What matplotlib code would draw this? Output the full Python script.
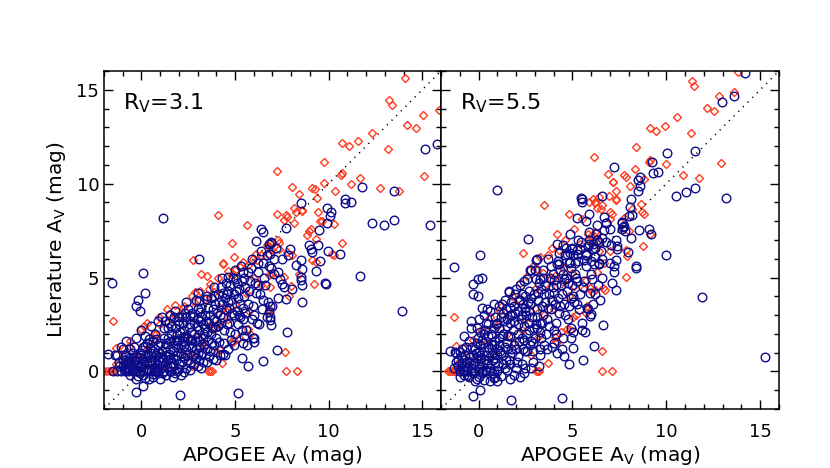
import numpy as np
import matplotlib
matplotlib.use('Agg')
import matplotlib.pyplot as plt
from matplotlib.ticker import MultipleLocator

# (APOGEE A_V, literature A_V), R_V = 3.1 panel
left_red = [
    (-2.0, 0), (-1.85, 0), (-1.7, 0), (-1.55, 0), (-1.45, 0), (3.55, 0), (3.65, 0), (3.75, 0),
    (7.71, 0), (8.30, 0),
    (-1.38, 0.39), (-1.37, 1.25), (-1.51, 2.71), (-0.32, 0.83), (2.69, 0.3), (4.29, 0.43),
    (7.68, 1.05), (4.79, 1.55), (4.16, 1.19), (4.02, 1.02), (3.81, 2.26), (5.67, 2.26),
    (5.76, 3.24), (6.79, 3.24), (5.80, 1.99), (4.82, 1.51), (3.31, 1.55), (2.43, 1.90),
    (2.61, 1.73), (0.65, 1.99), (0.62, 1.73), (-0.94, 1.19), (-0.68, 1.37), (-0.59, 1.64),
    (-0.05, 2.26), (0.12, 2.44), (0.3, 2.6), (0.92, 2.89), (1.36, 3.33), (1.45, 3.06),
    (1.81, 3.55), (2.2, 3.4), (2.69, 4.04), (2.87, 4.22), (3.14, 4.31), (3.49, 5.08),
    (3.67, 4.67), (4.11, 4.97), (3.85, 4.22), (3.40, 3.87), (4.64, 5.33), (4.82, 5.11),
    (5.27, 5.56), (5.71, 5.65), (6.15, 5.91), (6.86, 4.49), (4.64, 3.33), (4.55, 3.16),
    (4.11, 2.58), (3.85, 2.35), (3.63, 4.40), (4.34, 5.74), (4.9, 5.2), (5.0, 5.4),
    (5.4, 5.83), (5.94, 6.0), (6.12, 6.27), (6.82, 6.27), (6.91, 6.45), (7.36, 6.54),
    (7.8, 6.36), (8.06, 6.18), (7.62, 5.03), (7.98, 4.56), (6.82, 5.11), (8.42, 5.2),
    (9.31, 5.83), (10.19, 6.27), (3.2, 5.2), (2.74, 5.91), (4.38, 5.79), (4.95, 6.10),
    (4.84, 6.86), (4.07, 8.32), (5.62, 7.79),
    (0.3, 1.2), (0.8, 2.0), (1.0, 2.5), (1.6, 2.8), (2.0, 3.0), (2.3, 3.5), (2.8, 3.7),
    (2.2, 1.2), (3.0, 2.0), (3.6, 2.4), (4.2, 3.4), (5.0, 3.6), (5.6, 4.2), (6.0, 5.0),
    (1.2, 0.4), (0.5, 0.2), (-0.5, 0.4), (-1.0, 0.8), (2.6, 0.8), (3.3, 1.2), (4.6, 2.8),
    (5.2, 1.8),
    (7.23, 8.41), (7.71, 8.32), (7.80, 8.24), (7.62, 8.05), (8.15, 8.72), (8.24, 8.47),
    (8.6, 8.54), (8.15, 7.93), (9.45, 8.47), (9.54, 8.0), (9.66, 8.02), (10.28, 7.84),
    (8.95, 7.47), (9.04, 7.61), (8.86, 7.25), (9.31, 7.07), (10.69, 6.86), (7.27, 6.98),
    (7.36, 6.84), (6.82, 6.68), (10.28, 6.22), (6.73, 6.75), (6.91, 6.90), (7.0, 5.2),
    (7.89, 4.04), (6.38, 4.58), (6.83, 3.33), (9.22, 4.67), (9.13, 5.91), (6.38, 6.18),
    (14.06, 15.63), (13.24, 14.47), (13.38, 14.20), (15.87, 13.94), (15.02, 13.67),
    (14.20, 13.10), (14.66, 12.96), (12.32, 12.69), (10.72, 12.15), (11.08, 11.98),
    (11.57, 12.25), (13.17, 11.85), (9.75, 11.18), (7.23, 10.70), (10.64, 10.46),
    (10.72, 10.59), (15.07, 10.39), (11.65, 10.32), (8.06, 9.84), (9.13, 9.75),
    (9.26, 9.70), (9.75, 10.05), (11.17, 9.98), (12.73, 9.75), (13.76, 9.63), (8.42, 9.43),
    (10.32, 9.61), (9.39, 9.25), (8.60, 8.59),
]

left_blue = [
    (-1.5, 0), (-1.3, 0), (-1.1, 0), (-0.9, 0), (-0.7, 0), (-0.5, 0), (-0.3, 0), (-0.1, 0),
    (0.1, 0), (0.3, 0), (0.5, 0), (0.7, 0), (0.9, 0), (1.2, 0), (1.5, 0), (1.9, 0),
    (-1.78, 0.93), (-1.4, 0.9), (-1.2, 0.5), (-1.0, 1.2), (-0.9, 0.6),
    (-1.56, 4.72), (0.09, 5.26), (0.18, 4.19), (-0.27, 3.51), (-0.18, 3.78), (-0.09, 3.24),
    (-0.27, -1.09), (0.09, -0.80), (2.04, -1.27), (3.06, 6.0), (1.15, 8.18), (5.18, -1.16),
    (5.37, 0.71), (5.67, 0.3), (6.47, 0.57), (7.23, 1.16), (7.75, 2.12), (13.92, 3.24),
    (11.66, 5.06), (9.80, 4.70), (8.6, 3.69), (8.51, 4.85), (6.88, 2.74), (6.91, 2.48),
    (5.94, 1.76), (6.0, 1.55), (4.34, 0.93), (3.81, 0.66), (3.5, 0.5), (6.86, 3.5),
    (6.86, 2.9),
    (6.36, 7.57), (6.47, 7.43), (6.12, 6.93), (6.82, 6.81), (6.86, 6.27), (6.91, 6.86),
    (7.71, 7.66), (7.94, 6.50), (7.85, 6.18), (8.24, 5.68), (8.51, 5.91), (8.60, 5.47),
    (8.51, 5.03), (8.56, 4.61), (8.06, 4.40), (7.71, 3.87), (7.53, 4.67), (7.62, 4.49),
    (6.82, 3.19), (8.51, 8.95), (9.93, 8.68), (10.11, 8.50), (10.05, 8.29), (9.93, 7.88),
    (9.48, 7.52), (8.95, 6.72), (9.04, 6.50), (9.13, 6.36), (9.45, 6.75), (9.98, 6.40),
    (10.6, 6.24), (9.54, 5.86), (9.31, 5.33), (9.84, 4.67), (10.87, 9.18), (10.87, 8.95),
    (11.22, 9.04), (11.79, 9.84), (13.47, 9.63), (12.29, 7.91), (12.94, 7.82),
    (13.47, 8.04), (15.43, 7.81), (15.16, 11.85), (15.81, 12.10), (6.5, 5.8), (6.9, 5.5),
    (7.1, 6.0), (7.3, 5.3), (6.7, 6.2),
    (-1.2, 0.3), (-1.0, 0.6), (-0.9, 0.2), (-0.8, 0.9), (-0.7, 0.4), (-0.6, 1.2),
    (-0.6, -0.2), (-0.5, 0.7), (-1.3, 0.9), (-1.1, 1.3), (-0.8, 1.6), (-0.4, 0.1),
    (-0.3, -0.4), (-0.2, 0.5), (-0.1, 1.0), (0.0, 0.3), (0.1, -0.2), (0.2, 0.8), (0.3, 1.5),
    (0.4, 0.1), (0.5, 0.6), (-0.3, 1.8), (0.0, 2.2), (0.2, 1.9), (0.4, -0.4), (-0.1, -0.1),
    (0.3, 0.4), (0.1, 1.3), (0.5, 2.4), (-0.4, 1.3),
    (0.6, -0.3), (0.7, 0.2), (0.8, 0.9), (0.9, 1.4), (1.0, 0.5), (1.1, -0.1), (1.2, 1.8),
    (1.3, 0.8), (1.4, 2.3), (1.5, 0.3), (0.6, 1.1), (0.7, 2.0), (0.9, 2.7), (1.0, -0.4),
    (1.1, 1.1), (1.2, 0.0), (1.3, 1.5), (1.4, 0.6), (0.8, 0.0), (0.9, 0.6), (1.1, 2.9),
    (1.5, 1.2), (1.5, 3.0),
    (1.6, 0.0), (1.7, 0.7), (1.8, 1.4), (1.9, 2.0), (2.0, 0.4), (2.1, 1.0), (2.2, 2.6),
    (2.3, 1.6), (2.4, 0.2), (2.5, 3.3), (1.6, 2.4), (1.7, -0.3), (1.8, 3.2), (2.0, 1.7),
    (2.1, -0.2), (2.2, 0.8), (2.3, 2.2), (2.4, 1.2), (2.5, 0.6), (1.9, 0.9), (2.0, 2.9),
    (2.4, 3.7), (1.7, 1.1),
    (2.6, 0.1), (2.7, 1.3), (2.8, 2.0), (2.9, 0.7), (3.0, 2.8), (3.1, 1.6), (3.2, 3.4),
    (3.3, 0.5), (3.4, 2.3), (3.5, 4.0), (2.6, 2.5), (2.7, 3.1), (2.8, 0.4), (2.9, 3.8),
    (3.0, 1.0), (3.1, 2.2), (3.2, 0.2), (3.3, 1.8), (3.4, 3.0), (3.5, 1.2), (2.6, 1.7),
    (3.0, 4.2),
    (3.6, 0.8), (3.7, 2.0), (3.8, 3.3), (3.9, 1.4), (4.0, 2.7), (4.1, 4.1), (4.2, 0.9),
    (4.3, 3.6), (4.4, 2.2), (4.5, 4.7), (3.6, 2.6), (3.7, 3.9), (3.8, 1.1), (4.0, 1.8),
    (4.2, 3.0), (4.4, 1.5), (4.5, 3.3), (3.9, 4.5), (4.1, 2.4), (4.3, 5.0),
    (4.6, 1.2), (4.7, 2.6), (4.8, 3.8), (4.9, 5.0), (5.0, 2.0), (5.1, 3.2), (5.2, 4.4),
    (5.3, 5.6), (5.4, 2.8), (5.5, 4.0), (4.6, 4.3), (4.8, 1.7), (5.0, 5.4), (5.2, 3.0),
    (5.4, 1.5), (5.5, 5.0), (4.7, 3.4), (5.1, 4.7),
    (5.6, 2.2), (5.7, 3.6), (5.8, 4.8), (5.9, 6.0), (6.0, 3.0), (6.1, 4.2), (6.2, 5.3),
    (6.3, 2.5), (6.4, 6.4), (6.5, 3.8), (5.7, 5.3), (6.0, 1.8), (6.2, 4.6), (5.9, 2.8),
    (6.6, 4.6), (6.8, 5.6), (7.0, 3.5), (7.2, 6.6), (7.4, 4.9), (6.7, 2.9), (7.1, 5.2),
    (7.5, 6.0), (6.9, 6.9), (7.3, 3.9),
]

# the crowded low-extinction clump of the R_V = 3.1 panel
left_blue_clump = [
    (-1.0, 0.3), (-0.85, 0.45), (-0.75, 0.1), (-0.65, 0.7), (-0.55, 0.35), (-0.45, 1.0),
    (-0.35, 0.55), (-0.25, 0.2), (-0.15, 0.75), (-0.05, 0.45), (0.05, 1.15), (0.15, 0.55),
    (0.25, 0.15), (0.35, 0.9), (0.45, 1.25), (0.55, 0.35), (0.65, 0.75), (0.75, 1.2),
    (0.85, 0.4), (0.95, 1.0), (1.05, 0.2), (1.15, 0.7), (1.25, 1.3), (1.35, 0.25),
    (1.45, 0.95), (1.55, 1.6), (1.65, 0.45), (1.75, 1.7), (1.85, 0.6), (1.95, 1.25),
    (2.05, 2.1), (2.15, 0.5), (2.25, 1.35), (2.35, 1.9), (2.45, 0.9), (2.55, 1.4),
    (2.65, 2.1), (2.75, 0.8), (2.85, 1.6), (2.95, 2.4), (3.05, 1.3), (3.15, 2.7),
    (3.25, 1.0), (3.35, 2.0), (3.45, 2.7), (3.55, 1.7), (3.65, 3.0), (3.75, 2.3),
    (3.85, 2.8), (3.95, 3.6), (4.05, 3.1), (4.15, 3.7), (4.25, 2.6), (4.35, 4.2),
    (4.45, 3.9), (4.55, 2.5), (4.65, 3.7), (4.75, 4.6), (4.85, 3.1), (4.95, 4.1),
    (5.05, 4.3), (5.15, 2.5), (5.25, 3.6), (5.35, 4.8), (5.45, 3.4), (5.55, 4.5),
    (-0.95, 0.15), (-0.7, 0.55), (-0.5, 0.25), (-0.3, 0.75), (-0.1, 0.3), (0.1, 0.65),
    (0.3, 0.05), (0.5, 1.0), (0.7, 0.55), (0.9, 0.2), (1.1, 0.5), (1.3, 1.05), (1.5, 0.65),
    (1.7, 0.35), (1.9, 1.6), (2.1, 1.4), (2.3, 0.7), (2.5, 1.8), (2.7, 1.7), (2.9, 1.2),
    (3.1, 0.6), (3.3, 2.5), (3.5, 2.1), (0.0, 0.9), (0.2, 1.35), (0.4, 1.75), (0.6, 1.6),
    (0.8, 1.75), (1.0, 1.5), (1.2, 2.3), (1.4, 1.8), (1.6, 2.0), (1.8, 2.3), (2.0, 2.5),
    (2.2, 1.85), (2.4, 2.9), (2.6, 3.0), (2.8, 2.6), (3.0, 3.3), (3.2, 2.9), (-0.2, -0.25),
    (0.2, -0.35), (0.6, -0.15), (1.3, -0.2), (1.8, -0.1), (2.3, -0.05), (-0.6, 0.15),
    (0.9, -0.1), (1.6, 0.25), (2.0, 0.15), (2.6, 0.45), (3.0, 0.3), (-0.4, 0.6), (1.0, 0.75),
    (0.4, 0.55),
    (2.55, 2.35), (2.75, 2.9), (2.95, 1.85), (3.15, 3.15), (3.35, 1.45), (3.55, 3.4),
    (3.75, 1.5), (3.95, 2.35), (4.15, 1.55), (4.35, 2.9), (4.55, 4.1), (4.75, 2.1),
    (4.95, 3.0), (5.15, 3.9), (5.35, 2.2), (5.55, 3.1), (5.75, 4.3), (5.95, 3.5),
    (6.15, 2.6), (6.35, 4.1), (6.55, 5.0), (6.75, 3.7), (3.05, 3.75), (3.45, 3.85),
    (3.85, 4.0), (4.25, 4.5), (4.65, 5.05), (5.05, 4.9), (5.45, 5.3), (5.85, 5.5),
    (6.25, 5.8), (2.35, 3.1), (2.15, 2.9), (1.95, 2.7), (1.75, 2.9), (3.65, 1.1),
    (4.45, 0.9), (4.95, 1.4), (5.65, 1.4), (5.25, 2.9), (3.2, 0.9), (2.85, 0.95),
    (4.0, 0.6), (1.45, 2.6), (1.25, 2.7), (6.05, 4.7), (6.45, 3.3), (5.5, 1.9),
]

# R_V = 5.5 panel
right_red = [
    (-1.6, 0), (-1.5, 0), (-1.41, 0), (-1.3, 0), (-1.24, 0), (3.05, 0), (3.15, 0), (3.23, 0),
    (6.60, 0), (7.10, 0),
    (-1.28, 2.89), (-1.19, 1.37), (-1.15, 0.39), (3.69, 0.44), (6.56, 1.10), (4.08, 1.82),
    (4.13, 1.64), (4.18, 1.55), (4.70, 2.26), (4.85, 2.2), (5.05, 2.89), (5.77, 3.51),
    (5.8, 3.3), (5.75, 3.1), (6.06, 4.22), (6.74, 4.36), (0.62, 2.89), (1.24, 3.51),
    (1.15, 3.24), (2.36, 6.33), (3.72, 6.18), (4.26, 6.45), (4.17, 7.34), (3.49, 8.89),
    (4.82, 8.36), (6.19, 9.0), (6.6, 8.86), (6.95, 9.34), (7.34, 9.12), (6.99, 8.47),
    (6.51, 8.64), (5.9, 9.0), (6.1, 9.2), (6.3, 8.7), (6.4, 9.3), (5.85, 7.34), (6.0, 7.2),
    (6.2, 7.4), (6.4, 6.9),
    (3.11, 5.43), (3.46, 5.25), (3.8, 4.94), (4.06, 5.08), (4.5, 4.76), (5.1, 4.56),
    (5.7, 4.87), (5.95, 4.43), (6.2, 4.34), (6.64, 4.43), (5.0, 5.25), (0.2, 2.2),
    (-0.3, 1.7), (-0.8, 1.3), (1.8, 4.0), (2.2, 4.7), (2.6, 5.1), (2.0, 3.6), (2.9, 5.6),
    (3.3, 6.1), (3.9, 6.6), (4.6, 7.0), (5.1, 7.6), (5.5, 8.1), (3.0, 4.4), (3.8, 4.5),
    (4.5, 5.5), (5.4, 6.8), (1.5, 2.0), (2.5, 2.8), (3.5, 3.0), (4.0, 3.3), (4.8, 4.0),
    (5.6, 4.4), (6.3, 5.3), (6.7, 5.8), (7.0, 6.4), (0.0, 0.6), (0.8, 1.0), (1.9, 1.5),
    (2.8, 0.9), (-1.0, 0.5), (-0.5, 0.9), (3.2, 1.9), (4.4, 2.1), (5.2, 3.0), (1.0, 2.4),
    (0.4, 1.5), (2.3, 2.2), (3.0, 3.4),
    (13.8, 15.95), (11.35, 15.49), (11.47, 15.22), (12.80, 14.68), (13.60, 14.87),
    (12.15, 14.01), (12.54, 13.85), (10.55, 13.56), (9.13, 12.99), (9.47, 12.81),
    (9.91, 13.08), (11.30, 12.69), (8.37, 11.96), (6.15, 11.44), (9.13, 11.26),
    (9.08, 11.16), (9.97, 11.03), (12.89, 11.09), (8.34, 10.76), (6.91, 10.53),
    (7.75, 10.46), (7.84, 10.37), (8.81, 10.27), (10.89, 10.44), (11.74, 10.28),
    (7.18, 10.09), (8.05, 9.87), (7.31, 9.16), (6.21, 8.98), (8.64, 8.93), (8.19, 8.63),
    (8.72, 8.48), (8.81, 8.36), (7.75, 8.18), (8.02, 7.49), (9.13, 7.33), (8.78, 6.66),
    (7.84, 6.49), (7.93, 6.17), (6.42, 6.40), (6.15, 7.20), (5.89, 7.02), (7.16, 10.07),
    (7.87, 5.03), (7.3, 9.6), (7.0, 8.1), (7.1, 8.4),
]

right_blue = [
    (-1.0, 0), (-0.8, 0), (-0.6, 0), (-0.4, 0), (-0.2, 0), (0.0, 0), (0.2, 0), (0.4, 0),
    (0.6, 0), (0.8, 0), (1.0, 0),
    (0.98, 9.66), (5.45, 9.25), (5.53, 9.0), (6.60, 9.36), (5.89, 8.36), (5.23, 8.18),
    (6.78, 7.93), (7.62, 7.93), (7.7, 7.7), (7.8, 7.5), (4.86, 7.34), (2.61, 7.07),
    (4.20, 6.81), (4.52, 6.75), (0.07, 6.22), (3.14, 6.0), (5.7, 6.2), (5.9, 6.8),
    (6.1, 6.5), (6.3, 7.0), (6.0, 5.9), (6.2, 6.1), (-1.33, 5.56), (-0.32, 4.67),
    (0.18, 4.97), (-0.05, 4.9), (-0.27, 4.13), (-0.05, 4.01), (1.60, 4.22), (2.22, 4.61),
    (2.4, 4.8), (0.45, 3.33), (5.94, 2.97), (6.62, 2.49), (6.15, 1.37), (4.57, 0.83),
    (4.84, 0.39), (5.55, 0.62), (5.02, 1.25), (1.72, -1.53), (4.43, -1.43), (-0.27, -1.30),
    (0.07, -1.01), (5.98, 3.06), (5.85, 3.33), (5.05, 2.09), (7.31, 4.35), (11.91, 3.96),
    (15.25, 0.78), (8.40, 5.52), (9.97, 6.18), (7.2, 5.3), (7.0, 5.8), (-1.54, 1.10),
    (-1.24, 1.01), (-0.97, 1.01), (3.05, 5.91), (2.79, 5.38),
    (4.97, 6.54), (5.23, 6.45), (2.75, 5.38), (3.46, 5.38), (3.28, 4.94), (4.0, 4.85),
    (4.26, 5.74), (4.88, 5.83), (5.23, 6.27), (5.41, 6.54), (4.70, 6.27),
    (14.2, 15.9), (12.98, 14.36), (13.60, 14.65), (11.51, 11.74), (10.05, 11.62),
    (7.22, 10.89), (9.26, 11.16), (8.60, 10.37), (8.51, 10.18), (8.60, 9.87), (8.51, 9.59),
    (9.29, 10.55), (9.57, 10.64), (10.50, 9.34), (11.06, 9.53), (11.51, 9.79),
    (13.16, 9.21), (8.11, 9.16), (8.07, 8.77), (8.16, 8.32), (5.53, 9.20), (6.81, 7.91),
    (6.69, 7.52), (8.02, 8.27), (7.63, 7.95), (7.75, 7.73), (7.63, 7.59), (9.08, 7.61),
    (9.17, 7.34), (8.55, 7.52), (8.11, 7.11), (7.31, 6.98), (7.36, 6.66), (7.04, 6.72),
    (7.98, 6.34), (5.71, 6.22), (5.62, 5.95), (6.42, 5.78), (7.31, 5.91), (8.37, 5.59),
    (6.4, 6.9), (6.6, 7.1), (6.2, 6.6), (5.9, 7.0),
    (-1.3, 0.2), (-1.1, 0.6), (-1.0, -0.3), (-0.9, 1.2), (-0.8, 0.3), (-0.7, 0.9),
    (-0.6, -0.2), (-0.5, 1.6), (-1.2, 1.0), (-0.8, 1.9), (-0.6, 0.5), (-1.0, 0.0),
    (-0.4, 0.2), (-0.3, 0.9), (-0.2, -0.5), (-0.1, 1.5), (0.0, 0.4), (0.1, 2.1), (0.2, -0.1),
    (0.3, 1.1), (0.4, 2.6), (0.5, 0.6), (-0.4, 2.3), (-0.2, 1.2), (0.0, -0.3), (0.1, 0.9),
    (0.2, 1.7), (0.4, 0.1), (0.5, 1.9), (-0.3, -0.1), (0.3, 3.0), (0.0, 2.8),
    (0.6, 0.2), (0.7, 1.4), (0.8, 2.3), (0.9, -0.3), (1.0, 0.9), (1.1, 1.8), (1.2, 2.9),
    (1.3, 0.4), (1.4, 1.3), (1.5, 2.4), (0.6, 3.2), (0.8, 0.7), (1.0, -0.5), (1.1, 3.5),
    (1.3, 2.0), (1.5, 0.1), (0.7, -0.1), (1.2, 1.0), (0.9, 1.6), (1.4, 3.8), (1.0, 2.6),
    (1.5, 1.5),
    (1.6, 0.6), (1.7, 1.9), (1.8, 3.0), (1.9, -0.2), (2.0, 1.2), (2.1, 2.5), (2.2, 3.8),
    (2.3, 0.4), (2.4, 1.7), (2.5, 3.2), (1.6, 4.3), (1.8, 1.0), (2.0, 4.4), (2.2, -0.3),
    (2.4, 2.4), (1.7, 2.6), (2.1, 0.8), (2.3, 4.1), (2.5, 0.2), (1.9, 3.5),
    (2.6, 1.1), (2.7, 2.6), (2.8, 3.9), (2.9, 0.5), (3.0, 1.8), (3.1, 3.3), (3.2, 4.7),
    (3.3, 1.2), (3.4, 2.6), (3.5, 4.1), (2.6, 4.9), (2.8, 1.6), (3.0, 5.4), (3.2, 0.3),
    (3.4, 3.5), (2.7, 3.2), (3.1, 2.3), (3.5, 1.4),
    (3.6, 2.0), (3.7, 3.4), (3.8, 5.0), (3.9, 1.3), (4.0, 4.2), (4.1, 2.6), (4.2, 5.7),
    (4.3, 3.1), (4.4, 4.6), (4.5, 1.8), (3.7, 6.0), (4.0, 2.2), (4.3, 6.3), (3.9, 3.8),
    (4.2, 1.0), (4.5, 5.2),
    (4.6, 3.0), (4.7, 4.3), (4.8, 5.8), (4.9, 2.3), (5.0, 6.6), (5.1, 3.7), (5.2, 5.0),
    (5.3, 7.0), (5.4, 4.1), (5.5, 2.6), (4.6, 6.2), (5.0, 4.6), (5.3, 5.9), (4.8, 3.5),
    (5.6, 4.8), (5.7, 6.3), (5.8, 3.4), (5.9, 7.4), (6.0, 5.2), (6.1, 6.8), (6.2, 4.1),
    (6.3, 7.8), (6.4, 5.7), (5.7, 8.0), (6.1, 3.6), (6.5, 6.4),
    (6.6, 5.0), (6.8, 6.9), (7.0, 7.6), (7.2, 5.6), (7.4, 6.5), (6.7, 8.2), (7.1, 4.7),
]

# the crowded low-extinction clump of the R_V = 5.5 panel
right_blue_clump = [
    (-1.1, 0.3), (-0.95, 0.8), (-0.85, 0.1), (-0.75, 0.6), (-0.65, 1.3), (-0.55, 0.25),
    (-0.45, 0.75), (-0.35, 1.3), (-0.25, 0.45), (-0.15, 1.0), (-0.05, 1.8), (0.05, 0.15),
    (0.15, 0.7), (0.25, 1.5), (0.35, 2.2), (0.45, 0.4), (0.55, 1.2), (0.65, 2.0),
    (0.75, 0.6), (0.85, 1.4), (0.95, 2.5), (1.05, 0.3), (1.15, 1.1), (1.25, 1.9),
    (1.35, 2.7), (1.45, 0.6), (1.55, 1.9), (1.65, 3.0), (1.75, 1.2), (1.85, 2.2),
    (1.95, 3.1), (2.05, 0.5), (2.15, 1.6), (2.25, 2.8), (2.35, 1.2), (2.45, 3.4),
    (2.55, 2.0), (2.65, 3.7), (2.75, 1.4), (2.85, 2.9), (2.95, 4.1), (3.05, 2.5),
    (3.15, 3.8), (3.25, 2.1), (3.35, 4.4), (3.45, 3.0), (3.55, 4.6), (3.65, 2.8),
    (3.75, 4.1), (3.85, 3.3), (3.95, 5.2), (4.05, 3.6), (4.15, 4.6), (4.25, 3.9),
    (4.35, 5.4), (4.45, 4.1), (4.55, 3.6), (4.65, 5.0), (4.75, 4.7), (4.85, 6.3),
    (4.95, 5.5), (5.05, 4.0), (5.15, 5.8), (5.25, 4.8),
    (-0.9, 0.45), (-0.7, 0.0), (-0.5, 0.5), (-0.3, 0.35), (-0.1, 0.7), (0.1, 0.25),
    (0.3, 0.6), (0.5, 1.3), (0.7, 0.9), (0.9, 0.5), (1.1, 1.4), (1.3, 0.9), (1.5, 1.2),
    (1.7, 0.4), (1.9, 1.4), (2.1, 2.0), (2.3, 1.8), (2.5, 1.1), (2.7, 2.2), (2.9, 1.5),
    (3.1, 2.9), (3.3, 2.6), (-0.1, 2.3), (0.1, 1.4), (0.3, 2.0), (0.5, 2.5), (0.7, 1.9),
    (0.9, 2.9), (1.1, 2.3), (1.3, 3.1), (1.5, 2.8), (1.7, 3.4), (1.9, 2.7), (2.1, 3.2),
    (2.3, 3.0), (2.5, 4.0), (2.7, 4.3), (-0.5, -0.3), (-0.1, -0.4), (0.3, -0.45),
    (0.8, -0.35), (1.2, -0.25), (1.7, -0.4), (2.4, -0.1), (-0.8, -0.2), (0.6, -0.5),
    (1.4, 0.2), (2.0, 0.2), (2.8, 0.2), (-1.2, 0.5), (0.0, 1.05), (1.0, 1.2), (0.4, 0.85),
    (2.55, 3.0), (2.75, 3.6), (2.95, 2.3), (3.15, 4.2), (3.35, 1.8), (3.55, 3.7),
    (3.75, 2.4), (3.95, 4.5), (4.15, 2.0), (4.35, 3.5), (4.55, 4.9), (4.75, 2.8),
    (4.95, 3.9), (5.15, 5.2), (5.35, 3.3), (5.55, 4.5), (5.75, 5.6), (5.95, 4.2),
    (6.15, 5.7), (6.35, 4.6), (6.55, 6.0), (3.05, 4.9), (3.45, 5.0), (3.85, 5.6),
    (4.25, 5.9), (4.65, 6.6), (5.05, 6.2), (5.45, 6.9), (5.85, 6.7), (6.25, 7.3),
    (2.35, 3.6), (2.15, 3.8), (1.95, 4.1), (1.75, 3.7), (3.65, 1.2), (4.45, 1.2),
    (4.95, 1.8), (5.65, 2.1), (5.25, 3.6), (3.3, 0.9), (2.9, 1.1), (4.0, 1.5), (1.45, 3.3),
    (1.25, 3.6), (6.05, 4.9), (6.45, 3.8), (5.5, 2.2), (0.8, 3.6), (0.2, 3.4), (-0.4, 2.7),
]

panel_labels = ['R$_{\\rm V}$=3.1', 'R$_{\\rm V}$=5.5']
one_to_one = [-2, 16]
major_ticks = [0, 5, 10, 15]

red_col = '#ff3b1f'
blue_col = '#0c0c8a'

fig = plt.figure(figsize=(8.3, 4.68), dpi=100)
ax1 = fig.add_axes([0.1253, 0.1261, 0.406, 0.7222])
ax2 = fig.add_axes([0.5313, 0.1261, 0.4072, 0.7222])

panels = [(ax1, left_red, left_blue + left_blue_clump, panel_labels[0]),
          (ax2, right_red, right_blue + right_blue_clump, panel_labels[1])]

for ax, red, blue, lab in panels:
    rx, ry = np.array(red).T
    bx, by = np.array(blue).T
    ax.plot(rx, ry, 'D', mfc='none', mec=red_col, ms=4.2, mew=1.0, zorder=2)
    ax.plot(bx, by, 'o', mfc='none', mec=blue_col, ms=6.2, mew=1.0, zorder=3)
    ax.plot(one_to_one, one_to_one, color='black', lw=1.1,
            linestyle=(0, (0.8, 3.5)), zorder=4)
    ax.set_xlim(-2, 16)
    ax.set_ylim(-2, 16)
    ax.set_xticks(major_ticks)
    ax.set_yticks(major_ticks)
    ax.xaxis.set_minor_locator(MultipleLocator(1))
    ax.yaxis.set_minor_locator(MultipleLocator(1))
    ax.tick_params(which='both', direction='in', top=True, right=True, width=1.0)
    ax.tick_params(which='major', length=6.5, labelsize=13)
    ax.tick_params(which='minor', length=3.5)
    ax.tick_params(axis='x', which='major', pad=10)
    for s in ax.spines.values():
        s.set_linewidth(1.1)
    ax.set_xlabel('APOGEE A$_{\\rm V}$ (mag)', fontsize=14.5, labelpad=2)
    ax.text(0.057, 0.887, lab, transform=ax.transAxes, fontsize=16, va='baseline')

ax1.set_ylabel('Literature A$_{\\rm V}$ (mag)', fontsize=14.5, labelpad=6)
ax2.tick_params(labelleft=False)

fig.savefig('out.png', dpi=100)
